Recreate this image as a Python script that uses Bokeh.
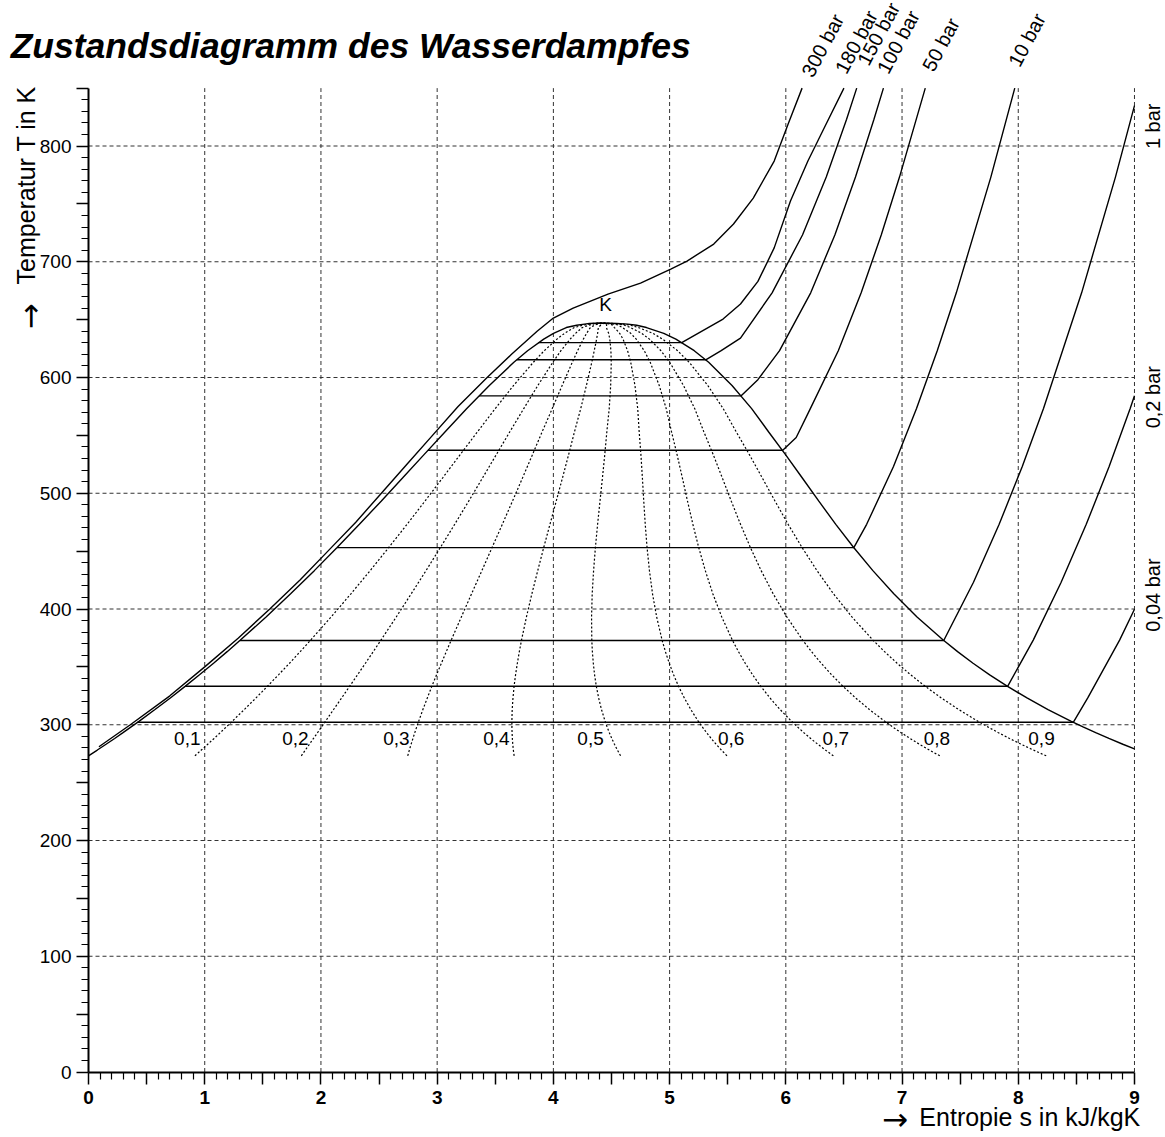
import math
from bokeh.plotting import figure
from bokeh.models import LinearAxis, FixedTicker, CustomJSTickFormatter, ColumnDataSource, Range1d
from bokeh.core.properties import value
from bokeh.embed import file_html
from bokeh.resources import INLINE

FONT = "Liberation Sans"
ARROW_FONT = "DejaVu Sans"

# ---------------- data ----------------
# saturation line (T in K, entropy of saturated liquid / vapour in kJ/kgK)
sat_T = [273.16, 278.15, 283.15, 288.15, 293.15, 298.15, 303.15, 313.15, 323.15, 333.15,
         343.15, 353.15, 363.15, 373.15, 393.15, 413.15, 433.15, 453.15, 473.15, 493.15,
         513.15, 533.15, 553.15, 573.15, 593.15, 613.15, 623.15, 633.15, 638.15, 643.15,
         645.15, 646.15, 646.65, 647.10]
sat_sl = [0.000, 0.076, 0.151, 0.225, 0.297, 0.367, 0.437, 0.572, 0.704, 0.831,
          0.955, 1.076, 1.193, 1.307, 1.528, 1.739, 1.943, 2.139, 2.331, 2.518,
          2.702, 2.885, 3.069, 3.255, 3.449, 3.660, 3.778, 3.917, 4.001, 4.111,
          4.200, 4.268, 4.310, 4.407]
sat_sv = [9.156, 9.025, 8.900, 8.780, 8.666, 8.557, 8.452, 8.256, 8.075, 7.908,
          7.754, 7.611, 7.478, 7.354, 7.129, 6.929, 6.749, 6.584, 6.430, 6.284,
          6.142, 5.999, 5.851, 5.706, 5.537, 5.336, 5.212, 5.054, 4.950, 4.801,
          4.716, 4.640, 4.545, 4.407]

# lines of constant vapour quality
qualities = [0.1, 0.2, 0.3, 0.4, 0.5, 0.6, 0.7, 0.8, 0.9]
quality_labels = ["0,1", "0,2", "0,3", "0,4", "0,5", "0,6", "0,7", "0,8", "0,9"]
quality_label_s = [0.85, 1.78, 2.65, 3.51, 4.32, 5.53, 6.43, 7.30, 8.20]
quality_label_T = [288, 288, 288, 288, 288, 288, 288, 288, 288]

# isobars: (s, T) points
iso_004_s = [0.4224, 8.4734, 8.598, 8.872, 9.112]
iso_004_T = [302.11, 302.11, 323.15, 373.15, 423.15]
iso_02_s = [0.8320, 7.9085, 8.129, 8.369, 8.585, 8.782, 8.963, 9.130]
iso_02_T = [333.21, 333.21, 373.15, 423.15, 473.15, 523.15, 573.15, 623.15]
iso_1_s = [1.3028, 7.3588, 7.6148, 7.8356, 8.0346, 8.2172, 8.5452, 8.8362, 9.1014]
iso_1_T = [372.76, 372.76, 423.15, 473.15, 523.15, 573.15, 673.15, 773.15, 873.15]
iso_10_s = [2.1381, 6.5850, 6.6956, 6.9265, 7.1246, 7.3029, 7.4670, 7.7642, 7.97]
iso_10_T = [453.03, 453.03, 473.15, 523.15, 573.15, 623.15, 673.15, 773.15, 850.0]
iso_50_s = [2.9206, 5.9737, 6.0893, 6.2110, 6.4516, 6.6483, 6.8210, 6.9781, 7.20]
iso_50_T = [537.09, 537.09, 548.15, 573.15, 623.15, 673.15, 723.15, 773.15, 850.0]
iso_100_s = [3.3603, 5.6159, 5.7596, 5.9460, 6.2141, 6.4219, 6.5995, 6.7585, 6.84]
iso_100_T = [584.15, 584.15, 598.15, 623.15, 673.15, 723.15, 773.15, 823.15, 850.0]
iso_150_s = [3.6848, 5.3108, 5.4438, 5.61, 5.8819, 6.1434, 6.3480, 6.5230, 6.61]
iso_150_T = [615.31, 615.31, 623.15, 634.0, 673.15, 723.15, 773.15, 823.15, 850.0]
iso_180_s = [3.8715, 5.1044, 5.46, 5.61, 5.76, 5.90, 6.04, 6.19, 6.33, 6.50]
iso_180_T = [630.15, 630.15, 650.5, 663.5, 683.0, 712.0, 752.5, 787.0, 815.5, 850.0]
iso_300_s = [0.09, 0.36, 0.70, 1.00, 1.29, 1.56, 1.82, 2.06, 2.30, 2.52, 2.74, 2.96, 3.18,
             3.43, 3.64, 3.86, 4.00, 4.17, 4.47, 4.75, 5.01, 5.15, 5.38, 5.55, 5.72, 5.90,
             6.02, 6.14]
iso_300_T = [281, 300, 325, 350, 375, 400, 425, 450, 475, 500, 525, 550, 575,
             600, 620, 640, 651.4, 660, 672, 681.6, 693.7, 700.6, 715.3, 732.6, 755, 787,
             819, 850]

# isobar labels
top_label_text = ["300 bar", "180 bar", "150 bar", "100 bar", "50 bar", "10 bar"]
top_label_s = [6.18, 6.47, 6.66, 6.83, 7.22, 7.96]
top_label_T = [861, 864, 871, 864, 866, 870]
right_label_text = ["1 bar", "0,2 bar", "0,04 bar"]
right_label_s = [9.16, 9.16, 9.16]
right_label_T = [817, 583, 412]

x_grid = [1, 2, 3, 4, 5, 6, 7, 8, 9]
y_grid = [100, 200, 300, 400, 500, 600, 700, 800]
S_MAX, T_MAX = 9, 850

# ---------------- figure (frame = whole canvas, axes fixed at s=0 / T=0) ----------------
W, H = 1164, 1136
PX_X0, PX_PER_S = 88.0, 116.22      # pixel column of s=0, pixels per kJ/kgK
PX_Y0, PX_PER_K = 1071.5, 1.1575    # pixel row of T=0, pixels per K
x_range = Range1d(-PX_X0 / PX_PER_S, (W - PX_X0) / PX_PER_S)
y_range = Range1d((PX_Y0 - H) / PX_PER_K, PX_Y0 / PX_PER_K)

p = figure(width=W, height=H, x_range=x_range, y_range=y_range,
           x_axis_type=None, y_axis_type=None, title=None,
           output_backend="svg", toolbar_location=None,
           min_border_left=0, min_border_right=0, min_border_top=0, min_border_bottom=0)
p.outline_line_color = None
p.background_fill_color = "white"
p.border_fill_color = "white"

x_major = [i * 0.5 for i in range(19)]
x_minor = [round(i * 0.1, 1) for i in range(91) if i % 5 != 0]
xaxis = LinearAxis(fixed_location=0, bounds=(0, S_MAX),
                   ticker=FixedTicker(ticks=x_major, minor_ticks=x_minor),
                   formatter=CustomJSTickFormatter(
                       code="return (Math.abs(tick - Math.round(tick)) < 1e-6) ? Math.round(tick).toString() : '';"))
y_major = [i * 50 for i in range(18)]
y_minor = [i * 10 for i in range(86) if i % 5 != 0]
yaxis = LinearAxis(fixed_location=0, bounds=(0, T_MAX),
                   ticker=FixedTicker(ticks=y_major, minor_ticks=y_minor),
                   formatter=CustomJSTickFormatter(
                       code="return (Math.round(tick) % 100 === 0) ? Math.round(tick).toString() : '';"))
for ax in (xaxis, yaxis):
    ax.axis_line_width = 2
    ax.axis_line_color = "black"
    ax.major_tick_out = 12
    ax.major_tick_in = 0
    ax.minor_tick_out = 7
    ax.minor_tick_in = 0
    ax.major_tick_line_width = 1.5
    ax.minor_tick_line_width = 1.2
    ax.major_tick_line_color = "black"
    ax.minor_tick_line_color = "black"
    ax.major_label_text_font = FONT
    ax.major_label_text_font_size = "19px"
    ax.major_label_text_color = "black"
xaxis.major_label_text_font_style = "bold"
xaxis.major_label_standoff = 7
yaxis.major_label_standoff = 5
p.add_layout(xaxis, "below")
p.add_layout(yaxis, "left")

# grid (dashed)
p.segment(x0=x_grid, y0=[0] * len(x_grid), x1=x_grid, y1=[T_MAX] * len(x_grid),
          line_color="#333333", line_width=1, line_dash="4 3")
p.segment(x0=[0] * len(y_grid), y0=y_grid, x1=[S_MAX] * len(y_grid), y1=y_grid,
          line_color="#333333", line_width=1, line_dash="4 3")

# clip curves to the diagram area (s <= 9)
def clip(xs, ys):
    ox, oy = [], []
    for i in range(len(xs)):
        if xs[i] <= S_MAX:
            ox.append(xs[i]); oy.append(ys[i])
        else:
            if i > 0 and xs[i - 1] < S_MAX:
                f = (S_MAX - xs[i - 1]) / (xs[i] - xs[i - 1])
                ox.append(S_MAX); oy.append(ys[i - 1] + f * (ys[i] - ys[i - 1]))
            if i + 1 < len(xs) and xs[i + 1] < S_MAX:
                f = (S_MAX - xs[i]) / (xs[i + 1] - xs[i])
                ox.append(S_MAX); oy.append(ys[i] + f * (ys[i + 1] - ys[i]))
    return ox, oy

# saturation dome
dome_s, dome_T = clip(sat_sl + sat_sv[::-1], sat_T + sat_T[::-1])
p.line(dome_s, dome_T, line_color="black", line_width=1.4)

# quality lines
q_xs, q_ys = [], []
for q in qualities:
    q_xs.append([a + q * (b - a) for a, b in zip(sat_sl, sat_sv)])
    q_ys.append(list(sat_T))
p.multi_line(q_xs, q_ys, line_color="black", line_width=1.2, line_dash="2 2")

# isobars
iso_xs, iso_ys = [], []
for xs, ys in [(iso_004_s, iso_004_T), (iso_02_s, iso_02_T), (iso_1_s, iso_1_T),
               (iso_10_s, iso_10_T), (iso_50_s, iso_50_T), (iso_100_s, iso_100_T),
               (iso_150_s, iso_150_T), (iso_180_s, iso_180_T), (iso_300_s, iso_300_T)]:
    cx, cy = clip(xs, ys)
    iso_xs.append(cx); iso_ys.append(cy)
p.multi_line(iso_xs, iso_ys, line_color="black", line_width=1.4)

# quality labels
qsrc = ColumnDataSource(dict(x=quality_label_s, y=quality_label_T, t=quality_labels))
p.text(x="x", y="y", text="t", source=qsrc, text_font=value(FONT), text_font_size="19px",
       text_align="center", text_baseline="middle", text_color="black")

# critical point
p.text(x=[4.45], y=[663], text=["K"], text_font=value(FONT), text_font_size="19px",
       text_align="center", text_baseline="middle", text_color="black")

# isobar labels
p.text(x=top_label_s, y=top_label_T, text=top_label_text, angle=math.radians(62),
       text_font=value(FONT), text_font_size="20px", text_align="left",
       text_baseline="alphabetic", text_color="black")
p.text(x=right_label_s, y=right_label_T, text=right_label_text, angle=math.pi / 2,
       text_font=value(FONT), text_font_size="20px", text_align="center",
       text_baseline="middle", text_color="black")

# titles
p.text(x=[-0.67], y=[886], text=["Zustandsdiagramm des Wasserdampfes"],
       text_font=value(FONT), text_font_size="35.5px", text_font_style="bold italic",
       text_align="left", text_baseline="middle", text_color="black")
# y axis title (arrow drawn separately with a font that has a full-size arrow)
p.text(x=[-0.54], y=[852], text=["Temperatur T in K"], angle=math.pi / 2,
       text_font=value(FONT), text_font_size="25px", text_align="right",
       text_baseline="middle", text_color="black")
p.text(x=[-0.50], y=[653], text=["\u2192"], angle=math.pi / 2,
       text_font=value(ARROW_FONT), text_font_size="31px", text_align="center",
       text_baseline="middle", text_color="black")
# x axis title
p.text(x=[9.05], y=[-38.5], text=["Entropie s in kJ/kgK"],
       text_font=value(FONT), text_font_size="25px", text_align="right",
       text_baseline="middle", text_color="black")
p.text(x=[6.94], y=[-40.5], text=["\u2192"],
       text_font=value(ARROW_FONT), text_font_size="31px", text_align="center",
       text_baseline="middle", text_color="black")

open("out.html", "w").write(file_html(p, INLINE))
